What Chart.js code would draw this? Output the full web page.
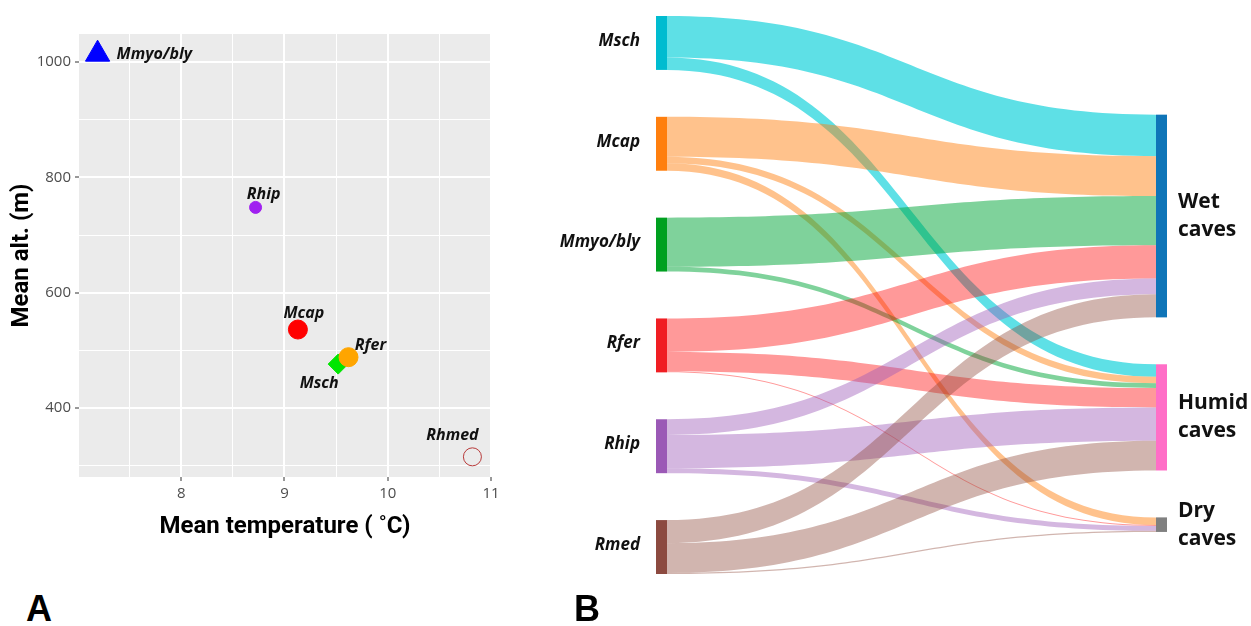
<!DOCTYPE html>
<html>
<head>
<meta charset="utf-8">
<script src="https://cdn.jsdelivr.net/npm/chart.js@4.4.1/dist/chart.umd.min.js"></script>
<style>
  body { margin: 0; background: #fff; width: 1251px; height: 626px; overflow: hidden; position: relative; }
  #scatterChart { position: absolute; left: 0; top: 0; }
  #sankeyChart { position: absolute; left: 555px; top: 0; }
  .panel { position: absolute; font: bold 36px "Liberation Sans", Arial, sans-serif; color: #000; line-height: 41px; }
</style>
</head>
<body>
<canvas id="scatterChart" width="555" height="545"></canvas>
<canvas id="sankeyChart" width="696" height="626"></canvas>
<div class="panel" style="left:26px;top:588px">A</div>
<div class="panel" style="left:574px;top:588px">B</div>

<script>
// ---- panel A data ----
const scatterNames = ["Mmyo/bly", "Rhip", "Mcap", "Msch", "Rfer", "Rhmed"];
const meanTemp = [7.19, 8.72, 9.13, 9.52, 9.62, 10.82];
const meanAlt = [1014, 748, 536, 476, 488, 315];
const xMajorTicks = [8, 9, 10, 11];
const xMinorTicks = [7.5, 8.5, 9.5, 10.5];
const yMajorTicks = [400, 600, 800, 1000];
const yMinorTicks = [300, 500, 700, 900];

// ---- panel B data (share of sites, %) ----
const species = ["Msch", "Mcap", "Mmyo/bly", "Rfer", "Rhip", "Rmed"];
const caveTypes = ["Wet caves", "Humid caves", "Dry caves"];
const wetShare = [77, 74, 91, 62, 29, 43];
const humidShare = [23, 12, 9, 36, 62, 55];
const dryShare = [0, 14, 0, 2, 9, 2];

// styles
const pointShapes = ["triangle", "circle", "circle", "rectRot", "circle", "circle"];
const pointSizes = [14, 6, 9.5, 10, 9.5, 9];
const pointFill = ["#0000ff", "#a020f0", "#ff0000", "#00e600", "#ffa500", "rgba(0,0,0,0)"];
const pointLine = ["#0000ff", "#a020f0", "#ff0000", "#00e600", "#ffa500", "#b83a3a"];
const labelOffsets = [[19, 0, "left"], [8, -13, "center"], [6, -16, "center"], [-19, 19, "center"], [22, -12, "center"], [-20, -21, "center"]];

const speciesColors = ["#00bcd0", "#ff7f0e", "#00a020", "#f01e23", "#9b59b6", "#8c4a40"];
const linkColors = ["rgba(0,206,215,0.63)", "rgba(255,127,14,0.48)", "rgba(0,165,55,0.5)",
  "rgba(255,0,0,0.4)", "rgba(155,89,182,0.43)", "rgba(140,70,55,0.4)"];
const caveColors = ["#0f75b8", "#ff6ec7", "#808080"];
const nodePad = 87;      // gap between nodes, in data units
const caveOffset = 183;  // where the right column starts
const nodeWidth = 11;

const isIn = (v, arr) => arr.some(t => Math.abs(t - v) < 1e-6);

const panelBg = {
  id: "panelBg",
  beforeDraw(chart) {
    const { ctx, chartArea: a } = chart;
    ctx.save();
    ctx.fillStyle = "#ebebeb";
    ctx.fillRect(a.left, a.top, a.right - a.left, a.bottom - a.top);
    ctx.restore();
  }
};

const pointLabels = {
  id: "pointLabels",
  afterDatasetsDraw(chart) {
    const { ctx, scales: { x, y } } = chart;
    ctx.save();
    ctx.font = "italic bold 16px 'Open Sans'";
    ctx.fillStyle = "#111";
    ctx.textBaseline = "middle";
    scatterNames.forEach((name, i) => {
      const off = labelOffsets[i];
      ctx.textAlign = off[2];
      ctx.fillText(name, x.getPixelForValue(meanTemp[i]) + off[0], y.getPixelForValue(meanAlt[i]) + off[1]);
    });
    ctx.restore();
  }
};

function axisOpts(min, max, major, minor, title, titlePad) {
  return {
    type: "linear",
    min: min,
    max: max,
    afterBuildTicks: s => { s.ticks = major.concat(minor).sort((a, b) => a - b).map(v => ({ value: v })); },
    ticks: {
      autoSkip: false,
      maxRotation: 0,
      padding: 4,
      color: "#4d4d4d",
      font: { family: "Open Sans", size: 15 },
      callback: v => isIn(v, major) ? String(v) : ""
    },
    grid: {
      color: "#ffffff",
      lineWidth: c => isIn(c.tick.value, major) ? 2 : 1,
      tickColor: c => isIn(c.tick.value, major) ? "#333333" : "rgba(0,0,0,0)",
      tickWidth: 1,
      tickLength: 4
    },
    border: { display: false },
    title: {
      display: true,
      text: title,
      color: "#000",
      font: { family: "Roboto", weight: "bold", size: 24 },
      padding: titlePad
    }
  };
}

const xAxis = axisOpts(7.01, 11, xMajorTicks, xMinorTicks, "Mean temperature ( ˚C)", { top: 0, bottom: 4 });
xAxis.afterFit = s => { s.height = 68; };
const yAxis = axisOpts(280, 1049, yMajorTicks, yMinorTicks, "Mean alt. (m)", { top: 8, bottom: 0 });
yAxis.afterFit = s => { s.width = 79; };

new Chart(document.getElementById("scatterChart"), {
  type: "scatter",
  data: {
    datasets: [{
      data: meanTemp.map((t, i) => ({ x: t, y: meanAlt[i] })),
      pointStyle: pointShapes,
      pointRadius: pointSizes,
      pointHoverRadius: pointSizes,
      backgroundColor: pointFill,
      borderColor: pointLine,
      borderWidth: 1
    }]
  },
  options: {
    responsive: false,
    animation: false,
    devicePixelRatio: 1,
    events: [],
    layout: { padding: { left: 0, top: 34, right: 64, bottom: 0 } },
    plugins: { legend: { display: false }, tooltip: { enabled: false } },
    scales: { x: xAxis, y: yAxis }
  },
  plugins: [panelBg, pointLabels]
});

// ---- panel B: sankey drawn on hidden linear scales ----
const shares = [wetShare, humidShare, dryShare];
const colTotal = species.reduce((a, s, i) => a + shares.reduce((b, arr) => b + arr[i], 0), 0) + nodePad * (species.length - 1);

const sankeyPlugin = {
  id: "sankey",
  afterDatasetsDraw(chart) {
    const { ctx } = chart;
    const xs = chart.scales.x, ys = chart.scales.y;
    const xL = xs.getPixelForValue(0), xR = xs.getPixelForValue(1);

    const src = [], tgt = [];
    let pos = 0;
    species.forEach((s, i) => {
      const total = shares.reduce((a, arr) => a + arr[i], 0);
      src.push({ y0: pos, y1: pos + total, cur: pos });
      pos += total + nodePad;
    });
    pos = caveOffset;
    caveTypes.forEach((c, j) => {
      const total = shares[j].reduce((a, b) => a + b, 0);
      tgt.push({ y0: pos, y1: pos + total, cur: pos });
      pos += total + nodePad;
    });

    const x0 = xL + nodeWidth, x1 = xR - nodeWidth, xm = (x0 + x1) / 2;
    ctx.save();
    species.forEach((s, i) => {
      caveTypes.forEach((c, j) => {
        const v = shares[j][i];
        if (!v) return;
        const sa = ys.getPixelForValue(src[i].cur), sb = ys.getPixelForValue(src[i].cur + v);
        const ta = ys.getPixelForValue(tgt[j].cur), tb = ys.getPixelForValue(tgt[j].cur + v);
        src[i].cur += v;
        tgt[j].cur += v;
        ctx.beginPath();
        ctx.moveTo(x0, sa);
        ctx.bezierCurveTo(xm, sa, xm, ta, x1, ta);
        ctx.lineTo(x1, tb);
        ctx.bezierCurveTo(xm, tb, xm, sb, x0, sb);
        ctx.closePath();
        ctx.fillStyle = linkColors[i];
        ctx.fill();
      });
    });

    // nodes + labels
    ctx.textBaseline = "middle";
    species.forEach((s, i) => {
      const a = ys.getPixelForValue(src[i].y0), b = ys.getPixelForValue(src[i].y1);
      ctx.fillStyle = speciesColors[i];
      ctx.fillRect(xL, a, nodeWidth, b - a);
      ctx.fillStyle = "#111";
      ctx.font = "italic bold 17px 'Open Sans'";
      ctx.textAlign = "right";
      ctx.fillText(s, xL - 16, (a + b) / 2 - 2);
    });
    caveTypes.forEach((c, j) => {
      const a = ys.getPixelForValue(tgt[j].y0), b = ys.getPixelForValue(tgt[j].y1);
      ctx.fillStyle = caveColors[j];
      ctx.fillRect(xR - nodeWidth, a, nodeWidth, b - a);
      ctx.fillStyle = "#111";
      ctx.font = "bold 21px 'Open Sans'";
      ctx.textAlign = "left";
      const lines = c.split(" ");
      lines.forEach((ln, k) => {
        ctx.fillText(ln, xR + 11, (a + b) / 2 + (k - (lines.length - 1) / 2) * 28);
      });
    });
    ctx.restore();
  }
};

new Chart(document.getElementById("sankeyChart"), {
  type: "scatter",
  data: { datasets: [] },
  options: {
    responsive: false,
    animation: false,
    devicePixelRatio: 1,
    events: [],
    layout: { padding: { left: 101, top: 16, right: 84, bottom: 52 } },
    plugins: { legend: { display: false }, tooltip: { enabled: false } },
    scales: {
      x: { type: "linear", min: 0, max: 1, display: false },
      y: { type: "linear", min: 0, max: colTotal, reverse: true, display: false }
    }
  },
  plugins: [sankeyPlugin]
});
</script>
</body>
</html>
